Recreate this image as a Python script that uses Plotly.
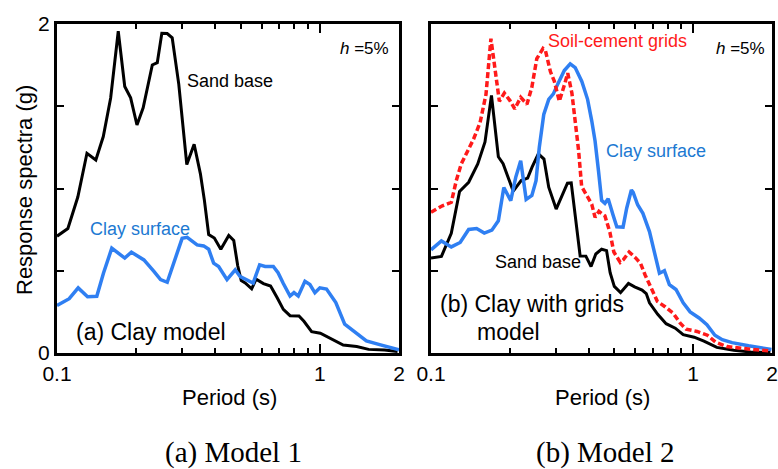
import numpy as np
import plotly.graph_objects as go

# ---------------- data ----------------
# Model 1 (clay model)
m1_sand_T = [0.100, 0.110, 0.120, 0.130, 0.1405, 0.150, 0.160, 0.171, 0.181, 0.1906, 0.2015, 0.2127,
             0.2304, 0.2407, 0.2505, 0.2626, 0.2743, 0.2906, 0.3117, 0.3324, 0.3512, 0.3637, 0.3776,
             0.3967, 0.4200, 0.4502, 0.4703, 0.4870, 0.5022, 0.5199, 0.5502, 0.5722, 0.6100, 0.6494,
             0.6873, 0.7261, 0.7699, 0.8326, 0.8697, 0.9302, 1.004, 1.091, 1.227, 1.381, 1.533, 1.763, 1.975]
m1_sand_Sa = [0.71, 0.757, 0.948, 1.214, 1.173, 1.316, 1.550, 1.956, 1.620, 1.551, 1.386, 1.491,
              1.751, 1.765, 1.943, 1.942, 1.916, 1.633, 1.146, 1.269, 1.089, 0.928, 0.720,
              0.699, 0.630, 0.714, 0.684, 0.530, 0.440, 0.426, 0.390, 0.449, 0.422, 0.407,
              0.337, 0.265, 0.227, 0.225, 0.193, 0.130, 0.120, 0.089, 0.048, 0.039, 0.022, 0.018, 0.009]

m1_clay_T = [0.100, 0.1113, 0.1204, 0.1307, 0.1417, 0.1503, 0.1616, 0.1810, 0.1919, 0.2141, 0.2337,
             0.2477, 0.2626, 0.2824, 0.2992, 0.3127, 0.3412, 0.3614, 0.3776, 0.3943, 0.4120, 0.4433,
             0.4764, 0.4977, 0.5276, 0.5574, 0.5900, 0.6190, 0.6652, 0.6934, 0.7261, 0.7699, 0.7971,
             0.8276, 0.8774, 0.9165, 0.9574, 1.000, 1.060, 1.150, 1.243, 1.337, 1.503, 1.688, 1.952, 2.0]
m1_clay_Sa = [0.289, 0.330, 0.396, 0.342, 0.345, 0.486, 0.637, 0.577, 0.613, 0.566, 0.496,
              0.446, 0.430, 0.586, 0.697, 0.703, 0.657, 0.651, 0.631, 0.546, 0.526, 0.446,
              0.506, 0.464, 0.446, 0.425, 0.536, 0.526, 0.526, 0.488, 0.422, 0.346, 0.367,
              0.346, 0.436, 0.416, 0.366, 0.396, 0.389, 0.307, 0.175, 0.134, 0.074, 0.051, 0.024, 0.020]

# Model 2 (clay with grids model)
m2_sand_T = [0.100, 0.1096, 0.1195, 0.1285, 0.1392, 0.1508, 0.1607, 0.1701, 0.1807, 0.1884, 0.1968,
             0.2060, 0.2208, 0.2337, 0.2430, 0.2568, 0.2698, 0.2813, 0.3003, 0.3161, 0.3316, 0.3428,
             0.3549, 0.3707, 0.3898, 0.4079, 0.4254, 0.4477, 0.4676, 0.4825, 0.5005, 0.5287, 0.5667,
             0.5983, 0.6388, 0.6626, 0.6817, 0.7328, 0.7888, 0.8549, 0.9166, 1.009, 1.100, 1.232,
             1.429, 1.657, 1.972]
m2_sand_Sa = [0.578, 0.587, 0.727, 0.982, 1.038, 1.149, 1.283, 1.566, 1.193, 1.151, 1.068,
              0.984, 1.048, 1.063, 1.130, 1.211, 1.179, 1.008, 0.875, 0.953, 1.032, 1.034,
              0.837, 0.590, 0.589, 0.526, 0.602, 0.631, 0.622, 0.488, 0.405, 0.367, 0.423,
              0.402, 0.383, 0.361, 0.305, 0.235, 0.178, 0.151, 0.111, 0.096, 0.072, 0.034,
              0.017, 0.006, 0.003]

m2_clay_T = [0.100, 0.1096, 0.1195, 0.1292, 0.1392, 0.1493, 0.1597, 0.1707, 0.1807, 0.1896, 0.2015,
             0.2105, 0.2199, 0.2307, 0.2426, 0.2516, 0.2589, 0.2693, 0.2813, 0.2930, 0.3047, 0.3225,
             0.3398, 0.3549, 0.3762, 0.3957, 0.4106, 0.4226, 0.4355, 0.4477, 0.4608, 0.4742, 0.4953,
             0.5115, 0.5404, 0.5580, 0.5814, 0.5906, 0.6142, 0.6433, 0.6817, 0.7122, 0.7440, 0.7771,
             0.8118, 0.8604, 0.9166, 0.9743, 1.054, 1.129, 1.211, 1.292, 1.408, 1.628, 1.855, 1.990]
m2_clay_Sa = [0.627, 0.681, 0.645, 0.672, 0.751, 0.757, 0.729, 0.747, 0.804, 1.006, 0.926,
              1.068, 1.169, 0.934, 0.958, 1.048, 1.249, 1.450, 1.542, 1.575, 1.636, 1.717,
              1.758, 1.735, 1.651, 1.542, 1.410, 1.289, 1.108, 0.928, 0.910, 0.938, 0.837,
              0.767, 0.765, 0.880, 0.991, 0.976, 0.901, 0.849, 0.738, 0.607, 0.485, 0.500,
              0.416, 0.386, 0.305, 0.250, 0.213, 0.172, 0.108, 0.081, 0.063, 0.044, 0.027, 0.021]

m2_grid_T = [0.100, 0.1105, 0.1195, 0.1249, 0.1304, 0.1382, 0.1454, 0.1539, 0.1621, 0.1693, 0.1768,
             0.1823, 0.1905, 0.1998, 0.2087, 0.2199, 0.2323, 0.2424, 0.2533, 0.2675, 0.2734, 0.2855,
             0.2956, 0.3087, 0.3225, 0.3324, 0.3448, 0.3580, 0.3658, 0.3756, 0.3922, 0.4106, 0.4226,
             0.4373, 0.4608, 0.4813, 0.4984, 0.5274, 0.5414, 0.5703, 0.6034, 0.6302, 0.6554, 0.6918,
             0.7310, 0.7838, 0.8402, 0.8932, 0.9409, 1.035, 1.134, 1.218, 1.345, 1.559, 1.938]
m2_grid_Sa = [0.855, 0.895, 0.916, 1.048, 1.149, 1.229, 1.301, 1.401, 1.572, 1.911, 1.681,
              1.530, 1.580, 1.536, 1.484, 1.554, 1.512, 1.614, 1.789, 1.851, 1.837, 1.711,
              1.651, 1.530, 1.627, 1.701, 1.580, 1.380, 1.229, 1.012, 0.958, 0.904, 0.825,
              0.861, 0.834, 0.735, 0.614, 0.551, 0.566, 0.614, 0.578, 0.545, 0.476, 0.392,
              0.313, 0.280, 0.241, 0.181, 0.145, 0.131, 0.108, 0.066, 0.039, 0.027, 0.013]

x_major = [0.1, 1, 2]
x_major_text = ["0.1", "1", "2"]
x_minor = [0.2, 0.3, 0.4, 0.5, 0.6, 0.7, 0.8, 0.9]
y_ticks = [0, 0.5, 1, 1.5, 2]
y_text_left = ["0", "", "", "", "2"]

# ---------------- styling ----------------
W, H = 778, 469
BLACK = "#000000"
BLUE = "#2f7ff2"
BLUE_TXT = "#1c79d2"
RED = "#ff1a1a"
SANS = "Liberation Sans, Arial, sans-serif"
SERIF = "Liberation Serif, Times New Roman, serif"


def fx(x):
    return x / W


def fy(y):
    return 1 - y / H


fig = go.Figure()

fig.add_trace(go.Scatter(x=m1_sand_T, y=m1_sand_Sa, mode="lines",
                         line=dict(color=BLACK, width=3), xaxis="x", yaxis="y"))
fig.add_trace(go.Scatter(x=m1_clay_T, y=m1_clay_Sa, mode="lines",
                         line=dict(color=BLUE, width=3.5), xaxis="x", yaxis="y"))

fig.add_trace(go.Scatter(x=m2_sand_T, y=m2_sand_Sa, mode="lines",
                         line=dict(color=BLACK, width=3), xaxis="x2", yaxis="y2"))
fig.add_trace(go.Scatter(x=m2_clay_T, y=m2_clay_Sa, mode="lines",
                         line=dict(color=BLUE, width=3.5), xaxis="x2", yaxis="y2"))
fig.add_trace(go.Scatter(x=m2_grid_T, y=m2_grid_Sa, mode="lines",
                         line=dict(color=RED, width=3.5, dash="6px,3px"), xaxis="x2", yaxis="y2"))


def xaxis_cfg(domain):
    return dict(domain=domain, type="log", range=[-1, np.log10(2)],
                tickmode="array", tickvals=x_major, ticktext=x_major_text,
                ticks="inside", ticklen=9, tickwidth=2, tickcolor=BLACK,
                minor=dict(tickmode="array", tickvals=x_minor, ticks="inside",
                           ticklen=5, tickwidth=2, tickcolor=BLACK, showgrid=False),
                showline=True, linewidth=3, linecolor=BLACK, mirror="allticks",
                showgrid=False, zeroline=False, automargin=False,
                tickfont=dict(family=SANS, size=21, color=BLACK))


def yaxis_cfg(domain, anchor, text):
    return dict(domain=domain, anchor=anchor, range=[0, 2],
                tickmode="array", tickvals=y_ticks, ticktext=text,
                ticks="inside", ticklen=7, tickwidth=2, tickcolor=BLACK,
                showline=True, linewidth=3, linecolor=BLACK, mirror="allticks",
                showgrid=False, zeroline=False, automargin=False,
                tickfont=dict(family=SANS, size=21, color=BLACK))


ydom = [fy(353), fy(24)]
fig.update_layout(
    width=W, height=H, autosize=False, margin=dict(l=0, r=0, t=0, b=0, pad=0),
    paper_bgcolor="white", plot_bgcolor="white", showlegend=False,
    xaxis=dict(**xaxis_cfg([fx(57), fx(399)]), anchor="y"),
    yaxis=yaxis_cfg(ydom, "x", y_text_left),
    xaxis2=dict(**xaxis_cfg([fx(431), fx(772)]), anchor="y2"),
    yaxis2=yaxis_cfg(ydom, "x2", ["", "", "", "", ""]),
)


def ann(text, x, y, size, color=BLACK, family=SANS, angle=0):
    fig.add_annotation(text=text, x=fx(x), y=fy(y), xref="paper", yref="paper",
                       showarrow=False, xanchor="center", yanchor="middle",
                       textangle=angle, font=dict(family=family, size=size, color=color))


ann("Response spectra (g)", 24, 190, 22, angle=-90)
ann("Period (s)", 230, 397, 22)
ann("Period (s)", 602, 397, 22)
ann("(a) Model 1", 234, 452, 29, family=SERIF)
ann("(b) Model 2", 605, 452, 29, family=SERIF)

ann("Sand base", 229.7, 81, 18)
ann("Clay surface", 140.3, 229.3, 18, color=BLUE_TXT)
ann("<i>h</i> =5%", 364.7, 49, 17)
ann("(a) Clay model", 151, 331.7, 23)

ann("Soil-cement grids", 617.5, 40.7, 18, color=RED)
ann("Clay surface", 656.3, 150.7, 18, color=BLUE_TXT)
ann("Sand base", 537.5, 261.7, 18)
ann("(b) Clay with grids", 531.7, 304, 23)
ann("model", 508.3, 331.7, 23)
ann("<i>h</i> =5%", 740, 48, 17)

fig.write_html("out.html", config={"responsive": False, "displayModeBar": False},
               post_script="document.body.style.margin='0';document.body.style.padding='0';")
